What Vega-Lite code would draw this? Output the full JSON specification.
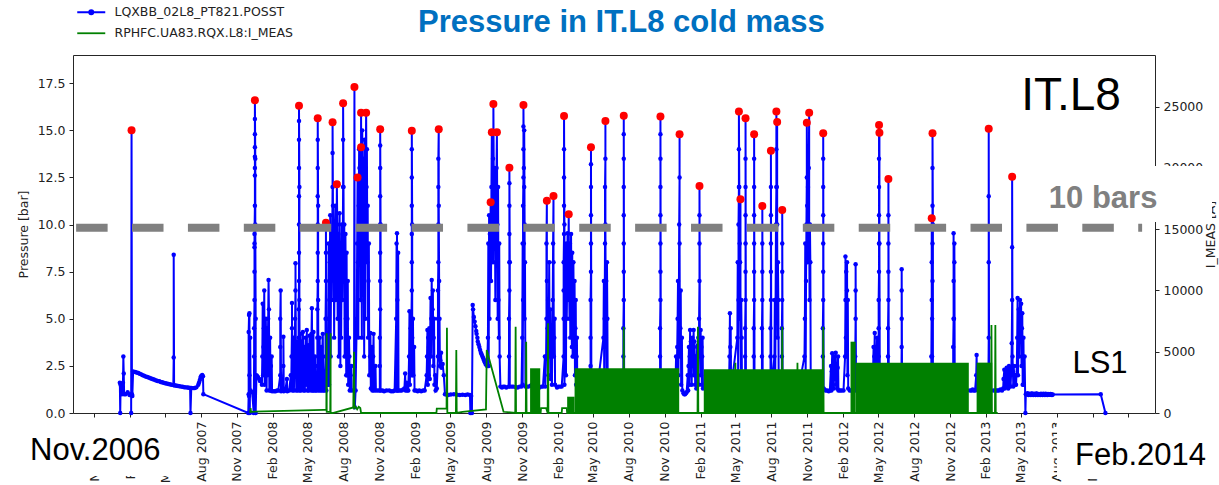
{
"$schema": "https://vega.github.io/schema/vega-lite/v6.json",
"width": 1082, "height": 358,
"autosize": {"type": "none"},
"padding": {"left": 73, "top": 55, "right": 64, "bottom": 72},
"background": "white",
"config": {
 "view": {"stroke": "#262626", "strokeWidth": 1},
 "axis": {"labelFont": "DejaVu Sans", "titleFont": "DejaVu Sans", "labelFontSize": 12.5, "titleFontSize": 12.5, "labelColor": "#222222", "titleColor": "#222222", "titleFontWeight": "normal", "tickColor": "#222222", "domain": false, "grid": false, "tickSize": 4}
},
"datasets": {
"blue": [
{"t":"2007-01-05","p":1.6},{"t":"2007-01-06","p":0},{"t":"2007-01-07","p":1.5},{"t":"2007-01-10","p":1.0},{"t":"2007-01-13","p":1.6},{"t":"2007-01-14","p":3.0},{"t":"2007-01-15","p":2.1},{"t":"2007-01-16","p":1.0},{"t":"2007-01-20","p":1.0},{"t":"2007-01-25","p":1.1},{"t":"2007-01-30","p":0.95},{"t":"2007-02-03","p":1.0},{"t":"2007-02-03","p":0},{"t":"2007-02-04","p":15.0},{"t":"2007-02-05","p":1.0},{"t":"2007-02-06","p":0.9},{"t":"2007-02-08","p":2.2},
{"t":"2007-02-13","p":2.18},{"t":"2007-02-17","p":2.15},{"t":"2007-02-21","p":2.12},{"t":"2007-02-25","p":2.08},{"t":"2007-03-01","p":2.05},{"t":"2007-03-04","p":2.01},{"t":"2007-03-08","p":1.98},{"t":"2007-03-12","p":1.94},{"t":"2007-03-16","p":1.91},{"t":"2007-03-20","p":1.88},{"t":"2007-03-24","p":1.85},{"t":"2007-03-28","p":1.82},{"t":"2007-03-31","p":1.79},{"t":"2007-04-04","p":1.76},{"t":"2007-04-08","p":1.73},{"t":"2007-04-12","p":1.7},{"t":"2007-04-16","p":1.68},{"t":"2007-04-20","p":1.65},{"t":"2007-04-23","p":1.63},{"t":"2007-04-27","p":1.6},{"t":"2007-05-01","p":1.58},{"t":"2007-05-05","p":1.56},{"t":"2007-05-09","p":1.54},{"t":"2007-05-13","p":1.52},{"t":"2007-05-17","p":1.5},{"t":"2007-05-22","p":1.48},{"t":"2007-05-23","p":2.95},{"t":"2007-05-23","p":8.4},{"t":"2007-05-24","p":1.47},{"t":"2007-05-27","p":1.46},{"t":"2007-05-31","p":1.45},{"t":"2007-06-03","p":1.43},{"t":"2007-06-07","p":1.42},{"t":"2007-06-11","p":1.4},{"t":"2007-06-15","p":1.39},{"t":"2007-06-19","p":1.37},{"t":"2007-06-23","p":1.36},{"t":"2007-06-27","p":1.35},{"t":"2007-07-01","p":1.34},{"t":"2007-07-04","p":1.33},{"t":"2007-07-05","p":0},{"t":"2007-07-07","p":1.33},{"t":"2007-07-12","p":1.32},{"t":"2007-07-16","p":1.33},{"t":"2007-07-20","p":1.36},{"t":"2007-07-25","p":1.5},{"t":"2007-07-27","p":1.62},{"t":"2007-07-29","p":1.75},{"t":"2007-07-31","p":1.88},{"t":"2007-08-01","p":1.95},{"t":"2007-08-04","p":2.02},{"t":"2007-08-06","p":1.95},{"t":"2007-08-07","p":1.0},{"t":"2007-11-30","p":0},
{"t":"2007-12-01","p":1.0},{"t":"2007-12-01","p":4.3},{"t":"2007-12-02","p":5.2},{"t":"2007-12-02","p":0.9},{"t":"2007-12-03","p":5.3},{"t":"2007-12-03","p":2.0},{"t":"2007-12-04","p":0},{"t":"2007-12-05","p":4.0},{"t":"2007-12-06","p":1.2},{"t":"2007-12-10","p":1.1},{"t":"2007-12-14","p":0},{"t":"2007-12-15","p":3.0},{"t":"2007-12-15","p":4.5},{"t":"2007-12-16","p":6.0},{"t":"2007-12-16","p":7.5},{"t":"2007-12-16","p":8.8},{"t":"2007-12-16","p":9.0},{"t":"2007-12-16","p":9.5},{"t":"2007-12-17","p":11.0},{"t":"2007-12-17","p":12.6},{"t":"2007-12-17","p":13.0},{"t":"2007-12-17","p":13.6},{"t":"2007-12-17","p":14.1},{"t":"2007-12-17","p":14.8},{"t":"2007-12-17","p":15.6},{"t":"2007-12-17","p":16.6},{"t":"2007-12-18","p":13.5},{"t":"2007-12-18","p":10.0},{"t":"2007-12-19","p":5.0},{"t":"2007-12-19","p":0},{"t":"2007-12-21","p":2.0},{"t":"2007-12-23","p":1.95},{"t":"2007-12-25","p":1.9},{"t":"2007-12-28","p":1.8},{"t":"2007-12-30","p":1.7},
{"t":"2008-01-04","p":1.5},{"t":"2008-01-05","p":3.0},{"t":"2008-01-06","p":5.8},{"t":"2008-01-07","p":2.0},{"t":"2008-01-08","p":3.5},{"t":"2008-01-09","p":4.5},{"t":"2008-01-10","p":6.5},{"t":"2008-01-11","p":1.5},{"t":"2008-01-12","p":4.0},{"t":"2008-01-13","p":2.0},{"t":"2008-01-14","p":5.0},{"t":"2008-01-15","p":3.5},{"t":"2008-01-16","p":1.2},{"t":"2008-01-17","p":4.5},{"t":"2008-01-18","p":2.0},{"t":"2008-01-19","p":3.5},{"t":"2008-01-20","p":5.0},{"t":"2008-01-21","p":7.06},{"t":"2008-01-22","p":5.5},{"t":"2008-01-23","p":1.2},{"t":"2008-01-24","p":3.0},{"t":"2008-01-25","p":4.0},{"t":"2008-01-26","p":1.2},{"t":"2008-01-27","p":2.5},{"t":"2008-01-29","p":3.0},{"t":"2008-01-30","p":1.15},{"t":"2008-02-04","p":1.15},{"t":"2008-02-08","p":1.15},{"t":"2008-02-12","p":1.2},{"t":"2008-02-15","p":1.2},
{"t":"2008-02-20","p":2.0},{"t":"2008-02-20","p":3.5},{"t":"2008-02-20","p":5.0},{"t":"2008-02-21","p":6.5},{"t":"2008-02-22","p":1.15},{"t":"2008-02-26","p":1.2},{"t":"2008-02-28","p":2.5},{"t":"2008-02-28","p":4.05},{"t":"2008-02-29","p":1.15},{"t":"2008-03-04","p":1.2},{"t":"2008-03-08","p":1.8},{"t":"2008-03-09","p":1.15},{"t":"2008-03-14","p":1.2},{"t":"2008-03-18","p":2.0},{"t":"2008-03-19","p":1.3},{"t":"2008-03-20","p":3.0},{"t":"2008-03-21","p":4.5},{"t":"2008-03-21","p":5.84},{"t":"2008-03-22","p":1.2},{"t":"2008-03-23","p":3.0},{"t":"2008-03-25","p":4.0},{"t":"2008-03-26","p":1.2},{"t":"2008-03-27","p":2.5},{"t":"2008-03-29","p":5.0},{"t":"2008-03-30","p":6.5},{"t":"2008-03-30","p":7.95},{"t":"2008-03-31","p":3.0},{"t":"2008-04-01","p":1.2},{"t":"2008-04-02","p":2.5},{"t":"2008-04-04","p":3.8},{"t":"2008-04-05","p":1.2},
{"t":"2008-04-07","p":2.5},{"t":"2008-04-07","p":4.0},{"t":"2008-04-07","p":5.5},{"t":"2008-04-08","p":7.0},{"t":"2008-04-08","p":8.5},{"t":"2008-04-08","p":10.0},{"t":"2008-04-08","p":11.5},{"t":"2008-04-08","p":13.0},{"t":"2008-04-08","p":14.5},{"t":"2008-04-08","p":15.5},{"t":"2008-04-08","p":16.3},{"t":"2008-04-09","p":12.0},{"t":"2008-04-09","p":6.0},{"t":"2008-04-10","p":1.2},
{"t":"2008-04-11","p":3.0},{"t":"2008-04-12","p":4.2},{"t":"2008-04-13","p":1.2},{"t":"2008-04-14","p":2.5},{"t":"2008-04-15","p":3.8},{"t":"2008-04-16","p":1.3},{"t":"2008-04-17","p":3.0},{"t":"2008-04-18","p":4.3},{"t":"2008-04-19","p":2.5},{"t":"2008-04-20","p":1.2},{"t":"2008-04-21","p":2.8},{"t":"2008-04-22","p":3.5},{"t":"2008-04-23","p":1.2},{"t":"2008-04-24","p":3.0},{"t":"2008-04-25","p":4.0},{"t":"2008-04-26","p":1.5},{"t":"2008-04-27","p":3.2},{"t":"2008-04-28","p":4.4},{"t":"2008-04-29","p":2.0},{"t":"2008-04-30","p":1.2},{"t":"2008-05-01","p":2.6},{"t":"2008-05-02","p":3.6},{"t":"2008-05-03","p":1.2},{"t":"2008-05-04","p":3.0},{"t":"2008-05-05","p":4.1},{"t":"2008-05-06","p":1.3},{"t":"2008-05-07","p":2.4},{"t":"2008-05-08","p":3.2},{"t":"2008-05-09","p":1.2},{"t":"2008-05-10","p":4.2},{"t":"2008-05-11","p":5.56},{"t":"2008-05-12","p":3.0},{"t":"2008-05-13","p":1.2},{"t":"2008-05-14","p":3.0},{"t":"2008-05-15","p":4.3},{"t":"2008-05-16","p":1.2},{"t":"2008-05-17","p":2.5},{"t":"2008-05-19","p":3.0},{"t":"2008-05-20","p":1.2},{"t":"2008-05-22","p":2.0},{"t":"2008-05-23","p":1.2},
{"t":"2008-05-25","p":2.5},{"t":"2008-05-25","p":4.0},{"t":"2008-05-25","p":5.5},{"t":"2008-05-26","p":7.0},{"t":"2008-05-26","p":8.5},{"t":"2008-05-26","p":10.0},{"t":"2008-05-26","p":11.5},{"t":"2008-05-26","p":13.0},{"t":"2008-05-26","p":14.5},{"t":"2008-05-26","p":15.64},{"t":"2008-05-27","p":11.0},{"t":"2008-05-27","p":6.0},{"t":"2008-05-28","p":1.2},{"t":"2008-05-29","p":2.5},{"t":"2008-05-31","p":4.0},{"t":"2008-06-01","p":1.2},{"t":"2008-06-02","p":2.5},{"t":"2008-06-04","p":3.5},{"t":"2008-06-05","p":1.2},{"t":"2008-06-06","p":3.0},{"t":"2008-06-08","p":4.2},{"t":"2008-06-09","p":1.2},{"t":"2008-06-11","p":2.2},{"t":"2008-06-12","p":1.2},
{"t":"2008-06-15","p":3.0},{"t":"2008-06-15","p":5.0},{"t":"2008-06-16","p":7.0},{"t":"2008-06-16","p":8.5},{"t":"2008-06-16","p":10.1},{"t":"2008-06-17","p":1.2},
{"t":"2008-06-20","p":3.0},{"t":"2008-06-21","p":1.5},{"t":"2008-06-22","p":5.0},{"t":"2008-06-23","p":9.0},{"t":"2008-06-24","p":1.5},{"t":"2008-06-25","p":6.0},{"t":"2008-06-26","p":8.0},{"t":"2008-06-27","p":10.5},{"t":"2008-06-28","p":3.0},{"t":"2008-06-29","p":7.0},{"t":"2008-06-30","p":9.5},{"t":"2008-07-01","p":6.0},{"t":"2008-07-02","p":9.0},{"t":"2008-07-03","p":12.0},{"t":"2008-07-03","p":13.8},{"t":"2008-07-03","p":15.43},{"t":"2008-07-04","p":11.0},{"t":"2008-07-05","p":8.0},{"t":"2008-07-06","p":10.0},{"t":"2008-07-07","p":4.0},{"t":"2008-07-08","p":7.5},{"t":"2008-07-09","p":9.8},{"t":"2008-07-10","p":11.0},{"t":"2008-07-11","p":6.0},{"t":"2008-07-12","p":9.0},{"t":"2008-07-13","p":8.0},{"t":"2008-07-14","p":12.14},{"t":"2008-07-15","p":10.0},{"t":"2008-07-16","p":5.0},{"t":"2008-07-17","p":8.0},{"t":"2008-07-18","p":9.5},{"t":"2008-07-19","p":3.0},{"t":"2008-07-20","p":8.5},{"t":"2008-07-21","p":10.6},{"t":"2008-07-22","p":7.0},{"t":"2008-07-23","p":2.5},{"t":"2008-07-24","p":9.0},{"t":"2008-07-25","p":4.0},{"t":"2008-07-26","p":8.0},{"t":"2008-07-27","p":10.0},{"t":"2008-07-28","p":6.0},{"t":"2008-07-29","p":9.0},{"t":"2008-07-30","p":12.0},{"t":"2008-07-30","p":14.5},{"t":"2008-07-30","p":16.44},{"t":"2008-07-31","p":12.0},{"t":"2008-08-01","p":8.0},{"t":"2008-08-02","p":10.0},{"t":"2008-08-03","p":3.0},{"t":"2008-08-04","p":7.0},{"t":"2008-08-05","p":9.5},{"t":"2008-08-06","p":5.0},{"t":"2008-08-07","p":2.0},{"t":"2008-08-08","p":8.5},{"t":"2008-08-09","p":2.0},{"t":"2008-08-10","p":5.0},{"t":"2008-08-11","p":7.0},{"t":"2008-08-12","p":1.5},{"t":"2008-08-14","p":4.0},{"t":"2008-08-15","p":3.0},{"t":"2008-08-16","p":1.2},{"t":"2008-08-18","p":2.0},{"t":"2008-08-20","p":2.5},{"t":"2008-08-21","p":1.2},
{"t":"2008-08-27","p":1.2},{"t":"2008-08-28","p":17.3},{"t":"2008-08-29","p":0.3},{"t":"2008-08-31","p":1.2},{"t":"2008-09-03","p":5.0},{"t":"2008-09-04","p":9.0},{"t":"2008-09-05","p":12.5},{"t":"2008-09-06","p":8.0},
{"t":"2008-09-07","p":4.0},{"t":"2008-09-08","p":11.0},{"t":"2008-09-09","p":14.0},{"t":"2008-09-10","p":13.0},{"t":"2008-09-11","p":9.0},{"t":"2008-09-12","p":12.0},{"t":"2008-09-13","p":6.0},{"t":"2008-09-14","p":14.1},{"t":"2008-09-14","p":15.94},{"t":"2008-09-15","p":10.0},{"t":"2008-09-16","p":4.0},{"t":"2008-09-17","p":15.0},{"t":"2008-09-18","p":11.5},{"t":"2008-09-19","p":7.0},{"t":"2008-09-20","p":13.5},{"t":"2008-09-21","p":8.0},{"t":"2008-09-22","p":3.0},{"t":"2008-09-23","p":14.5},{"t":"2008-09-24","p":10.0},{"t":"2008-09-25","p":5.0},{"t":"2008-09-26","p":13.0},{"t":"2008-09-27","p":15.94},{"t":"2008-09-28","p":12.0},{"t":"2008-09-29","p":14.0},{"t":"2008-09-30","p":8.0},{"t":"2008-10-01","p":11.0},{"t":"2008-10-02","p":4.0},{"t":"2008-10-03","p":7.0},{"t":"2008-10-04","p":9.0},{"t":"2008-10-05","p":2.0},
{"t":"2008-10-07","p":3.0},{"t":"2008-10-08","p":4.25},{"t":"2008-10-09","p":1.3},{"t":"2008-10-11","p":2.5},{"t":"2008-10-12","p":3.5},{"t":"2008-10-13","p":1.2},{"t":"2008-10-15","p":3.0},{"t":"2008-10-16","p":4.2},{"t":"2008-10-17","p":1.2},{"t":"2008-10-21","p":2.5},{"t":"2008-10-22","p":1.2},{"t":"2008-10-27","p":1.2},
{"t":"2008-11-01","p":1.2},{"t":"2008-11-01","p":2.5},{"t":"2008-11-01","p":4.0},{"t":"2008-11-02","p":5.5},{"t":"2008-11-02","p":7.0},{"t":"2008-11-02","p":8.5},{"t":"2008-11-02","p":10.0},{"t":"2008-11-02","p":11.5},{"t":"2008-11-02","p":13.0},{"t":"2008-11-02","p":14.2},{"t":"2008-11-02","p":15.06},{"t":"2008-11-03","p":10.0},{"t":"2008-11-03","p":1.2},{"t":"2008-11-08","p":1.2},{"t":"2008-11-12","p":1.15},{"t":"2008-11-18","p":1.2},{"t":"2008-11-25","p":1.2},{"t":"2008-11-30","p":1.15},{"t":"2008-12-05","p":1.15},{"t":"2008-12-09","p":1.2},
{"t":"2008-12-13","p":5.0},{"t":"2008-12-14","p":9.0},{"t":"2008-12-14","p":1.2},{"t":"2008-12-15","p":7.0},{"t":"2008-12-15","p":9.54},{"t":"2008-12-16","p":6.0},{"t":"2008-12-16","p":1.2},{"t":"2008-12-18","p":8.5},{"t":"2008-12-19","p":1.2},{"t":"2008-12-23","p":1.2},{"t":"2008-12-27","p":1.2},{"t":"2008-12-31","p":1.25},{"t":"2009-01-03","p":1.3},{"t":"2009-01-05","p":2.1},{"t":"2009-01-06","p":1.2},{"t":"2009-01-09","p":1.6},{"t":"2009-01-10","p":1.2},{"t":"2009-01-13","p":1.2},
{"t":"2009-01-15","p":3.0},{"t":"2009-01-16","p":5.4},{"t":"2009-01-17","p":1.5},{"t":"2009-01-18","p":3.0},{"t":"2009-01-19","p":4.5},{"t":"2009-01-20","p":2.0},{"t":"2009-01-21","p":5.0},{"t":"2009-01-22","p":6.5},{"t":"2009-01-22","p":8.0},{"t":"2009-01-22","p":9.5},{"t":"2009-01-22","p":11.0},{"t":"2009-01-22","p":12.5},{"t":"2009-01-22","p":14.0},{"t":"2009-01-22","p":14.98},{"t":"2009-01-23","p":10.0},{"t":"2009-01-23","p":4.0},{"t":"2009-01-24","p":2.0},{"t":"2009-01-25","p":5.0},{"t":"2009-01-26","p":2.0},{"t":"2009-01-28","p":3.5},{"t":"2009-01-29","p":1.2},{"t":"2009-02-02","p":1.2},{"t":"2009-02-06","p":1.15},{"t":"2009-02-10","p":1.2},{"t":"2009-02-15","p":1.15},{"t":"2009-02-20","p":1.2},{"t":"2009-02-24","p":1.2},
{"t":"2009-03-01","p":2.0},{"t":"2009-03-02","p":3.0},{"t":"2009-03-03","p":4.4},{"t":"2009-03-04","p":1.5},{"t":"2009-03-05","p":4.0},{"t":"2009-03-06","p":2.0},{"t":"2009-03-07","p":3.5},{"t":"2009-03-08","p":4.5},{"t":"2009-03-09","p":1.8},{"t":"2009-03-10","p":4.0},{"t":"2009-03-11","p":6.1},{"t":"2009-03-12","p":3.0},{"t":"2009-03-13","p":5.0},{"t":"2009-03-14","p":7.06},{"t":"2009-03-15","p":4.0},{"t":"2009-03-16","p":5.5},{"t":"2009-03-17","p":6.5},{"t":"2009-03-18","p":2.5},{"t":"2009-03-19","p":4.0},{"t":"2009-03-20","p":5.0},{"t":"2009-03-21","p":1.5},{"t":"2009-03-23","p":2.0},{"t":"2009-03-24","p":1.2},{"t":"2009-03-27","p":1.3},
{"t":"2009-03-30","p":3.0},{"t":"2009-03-30","p":5.0},{"t":"2009-03-30","p":6.5},{"t":"2009-03-31","p":8.0},{"t":"2009-03-31","p":10.0},{"t":"2009-03-31","p":12.0},{"t":"2009-03-31","p":13.5},{"t":"2009-04-01","p":15.06},{"t":"2009-04-01","p":11.0},{"t":"2009-04-02","p":7.0},{"t":"2009-04-02","p":3.0},{"t":"2009-04-03","p":5.0},{"t":"2009-04-04","p":2.5},{"t":"2009-04-05","p":2.8},{"t":"2009-04-07","p":3.2},{"t":"2009-04-08","p":2.4},{"t":"2009-04-11","p":2.6},{"t":"2009-04-14","p":2.0},{"t":"2009-04-17","p":1.0},{"t":"2009-04-21","p":0.98},{"t":"2009-04-25","p":0.96},{"t":"2009-05-02","p":0.98},{"t":"2009-05-10","p":1.0},{"t":"2009-05-18","p":0.97},{"t":"2009-05-25","p":0.95},{"t":"2009-06-01","p":0.97},{"t":"2009-06-08","p":0.96},{"t":"2009-06-14","p":0.98},{"t":"2009-06-20","p":0.95},{"t":"2009-06-21","p":0},{"t":"2009-06-23","p":0.9},{"t":"2009-06-25","p":0},
{"t":"2009-06-27","p":5.73},{"t":"2009-06-28","p":5.5},{"t":"2009-06-30","p":5.1},{"t":"2009-07-02","p":4.85},{"t":"2009-07-04","p":4.6},{"t":"2009-07-06","p":4.35},{"t":"2009-07-07","p":4.2},{"t":"2009-07-09","p":4.0},{"t":"2009-07-10","p":3.8},{"t":"2009-07-12","p":3.65},{"t":"2009-07-14","p":3.5},{"t":"2009-07-16","p":3.35},{"t":"2009-07-18","p":3.2},{"t":"2009-07-20","p":3.1},{"t":"2009-07-22","p":3.0},{"t":"2009-07-24","p":2.9},{"t":"2009-07-26","p":2.8},{"t":"2009-07-28","p":2.7},{"t":"2009-07-30","p":2.6},{"t":"2009-08-01","p":2.55},{"t":"2009-08-03","p":2.5},
{"t":"2009-08-05","p":4.0},{"t":"2009-08-06","p":9.0},{"t":"2009-08-07","p":2.5},{"t":"2009-08-08","p":10.5},{"t":"2009-08-09","p":5.0},{"t":"2009-08-10","p":9.5},{"t":"2009-08-11","p":8.0},{"t":"2009-08-12","p":11.18},{"t":"2009-08-13","p":7.0},{"t":"2009-08-14","p":12.0},{"t":"2009-08-15","p":14.9},{"t":"2009-08-16","p":10.0},{"t":"2009-08-17","p":11.0},{"t":"2009-08-18","p":13.5},{"t":"2009-08-18","p":8.0},{"t":"2009-08-19","p":12.0},{"t":"2009-08-19","p":14.9},{"t":"2009-08-19","p":16.4},{"t":"2009-08-20","p":12.5},{"t":"2009-08-21","p":9.0},{"t":"2009-08-22","p":13.0},{"t":"2009-08-23","p":10.0},{"t":"2009-08-24","p":6.0},{"t":"2009-08-25","p":12.0},{"t":"2009-08-26","p":8.0},{"t":"2009-08-27","p":13.0},{"t":"2009-08-28","p":14.9},{"t":"2009-08-29","p":10.0},{"t":"2009-08-30","p":5.0},{"t":"2009-08-31","p":12.0},{"t":"2009-09-01","p":6.0},{"t":"2009-09-02","p":4.0},{"t":"2009-09-03","p":9.0},{"t":"2009-09-04","p":3.0},{"t":"2009-09-06","p":1.4},{"t":"2009-09-10","p":1.35},{"t":"2009-09-13","p":1.4},{"t":"2009-09-17","p":1.4},{"t":"2009-09-21","p":1.35},{"t":"2009-09-27","p":1.4},
{"t":"2009-09-28","p":3.0},{"t":"2009-09-28","p":5.0},{"t":"2009-09-29","p":6.5},{"t":"2009-09-29","p":8.0},{"t":"2009-09-29","p":9.5},{"t":"2009-09-29","p":11.0},{"t":"2009-09-29","p":12.2},{"t":"2009-09-29","p":13.02},{"t":"2009-09-30","p":8.0},{"t":"2009-09-30","p":1.4},{"t":"2009-10-05","p":1.4},{"t":"2009-10-09","p":1.4},{"t":"2009-10-15","p":1.38},{"t":"2009-10-20","p":1.35},{"t":"2009-10-25","p":1.4},{"t":"2009-10-30","p":1.4},
{"t":"2009-11-01","p":4.0},{"t":"2009-11-02","p":9.0},{"t":"2009-11-02","p":1.5},{"t":"2009-11-03","p":6.0},{"t":"2009-11-03","p":11.0},{"t":"2009-11-04","p":12.5},{"t":"2009-11-04","p":14.0},{"t":"2009-11-04","p":15.2},{"t":"2009-11-04","p":16.35},{"t":"2009-11-05","p":13.0},{"t":"2009-11-05","p":9.0},{"t":"2009-11-06","p":12.0},{"t":"2009-11-06","p":15.0},{"t":"2009-11-07","p":10.0},{"t":"2009-11-07","p":5.0},{"t":"2009-11-08","p":8.0},{"t":"2009-11-09","p":1.4},{"t":"2009-11-13","p":1.4},{"t":"2009-11-17","p":1.4},{"t":"2009-11-22","p":1.45},{"t":"2009-11-26","p":1.5},{"t":"2009-12-01","p":1.45},{"t":"2009-12-05","p":1.4},{"t":"2009-12-10","p":1.4},{"t":"2009-12-15","p":1.35},{"t":"2009-12-20","p":1.4},{"t":"2009-12-24","p":1.4},
{"t":"2009-12-29","p":3.0},{"t":"2009-12-30","p":1.4},{"t":"2010-01-01","p":3.0},{"t":"2010-01-02","p":5.0},{"t":"2010-01-02","p":9.0},{"t":"2010-01-03","p":11.27},{"t":"2010-01-03","p":7.0},{"t":"2010-01-04","p":3.0},{"t":"2010-01-05","p":4.5},{"t":"2010-01-06","p":6.0},{"t":"2010-01-07","p":2.0},{"t":"2010-01-08","p":5.0},{"t":"2010-01-09","p":8.0},{"t":"2010-01-10","p":4.0},{"t":"2010-01-11","p":3.0},{"t":"2010-01-12","p":5.5},{"t":"2010-01-13","p":1.8},{"t":"2010-01-14","p":3.5},{"t":"2010-01-15","p":4.5},{"t":"2010-01-16","p":1.5},{"t":"2010-01-17","p":4.0},{"t":"2010-01-18","p":6.0},{"t":"2010-01-19","p":9.0},{"t":"2010-01-20","p":11.52},{"t":"2010-01-20","p":8.0},{"t":"2010-01-21","p":3.0},{"t":"2010-01-22","p":4.0},{"t":"2010-01-23","p":5.0},{"t":"2010-01-24","p":1.5},{"t":"2010-01-29","p":1.35},{"t":"2010-02-02","p":1.4},{"t":"2010-02-06","p":1.4},{"t":"2010-02-10","p":1.4},
{"t":"2010-02-15","p":3.0},{"t":"2010-02-15","p":5.0},{"t":"2010-02-15","p":6.5},{"t":"2010-02-15","p":8.0},{"t":"2010-02-16","p":9.5},{"t":"2010-02-16","p":11.0},{"t":"2010-02-16","p":12.5},{"t":"2010-02-16","p":14.0},{"t":"2010-02-16","p":15.76},{"t":"2010-02-17","p":10.0},{"t":"2010-02-17","p":1.5},
{"t":"2010-02-18","p":2.5},{"t":"2010-02-19","p":4.0},{"t":"2010-02-20","p":8.0},{"t":"2010-02-21","p":2.0},{"t":"2010-02-22","p":9.0},{"t":"2010-02-23","p":5.0},{"t":"2010-02-24","p":7.0},{"t":"2010-02-25","p":9.54},{"t":"2010-02-26","p":6.0},{"t":"2010-02-27","p":8.0},{"t":"2010-02-28","p":10.55},{"t":"2010-03-01","p":7.0},{"t":"2010-03-02","p":5.0},{"t":"2010-03-03","p":9.0},{"t":"2010-03-04","p":4.0},{"t":"2010-03-05","p":7.0},{"t":"2010-03-06","p":9.5},{"t":"2010-03-07","p":6.0},{"t":"2010-03-08","p":3.5},{"t":"2010-03-09","p":8.5},{"t":"2010-03-10","p":3.0},{"t":"2010-03-11","p":6.0},{"t":"2010-03-12","p":8.0},{"t":"2010-03-13","p":5.0},{"t":"2010-03-14","p":3.0},{"t":"2010-03-15","p":7.0},{"t":"2010-03-16","p":2.0},{"t":"2010-03-17","p":4.5},{"t":"2010-03-18","p":6.0},{"t":"2010-03-19","p":1.5},{"t":"2010-03-20","p":3.0},{"t":"2010-03-21","p":4.0},{"t":"2010-03-22","p":1.3},{"t":"2010-04-05","p":1.3},{"t":"2010-04-18","p":1.3},
{"t":"2010-04-25","p":2.5},{"t":"2010-04-25","p":4.0},{"t":"2010-04-25","p":6.0},{"t":"2010-04-26","p":7.5},{"t":"2010-04-26","p":9.0},{"t":"2010-04-26","p":10.5},{"t":"2010-04-26","p":12.0},{"t":"2010-04-26","p":13.2},{"t":"2010-04-26","p":14.1},{"t":"2010-04-27","p":1.3},{"t":"2010-05-12","p":1.3},
{"t":"2010-05-28","p":4.0},{"t":"2010-05-29","p":7.0},{"t":"2010-05-30","p":1.5},{"t":"2010-05-31","p":5.0},{"t":"2010-06-01","p":9.0},{"t":"2010-06-01","p":12.0},{"t":"2010-06-02","p":13.5},{"t":"2010-06-02","p":15.5},{"t":"2010-06-02","p":10.0},{"t":"2010-06-03","p":4.0},{"t":"2010-06-04","p":7.0},{"t":"2010-06-05","p":2.0},{"t":"2010-06-06","p":8.0},{"t":"2010-06-07","p":5.0},{"t":"2010-06-08","p":1.3},{"t":"2010-06-25","p":1.3},
{"t":"2010-07-18","p":1.3},{"t":"2010-07-18","p":3.0},{"t":"2010-07-18","p":4.5},{"t":"2010-07-19","p":6.0},{"t":"2010-07-19","p":7.5},{"t":"2010-07-19","p":9.0},{"t":"2010-07-19","p":10.5},{"t":"2010-07-19","p":12.0},{"t":"2010-07-19","p":13.5},{"t":"2010-07-19","p":14.8},{"t":"2010-07-19","p":15.78},{"t":"2010-07-20","p":1.3},{"t":"2010-08-15","p":1.3},{"t":"2010-09-10","p":1.3},{"t":"2010-10-01","p":1.3},
{"t":"2010-10-20","p":1.3},{"t":"2010-10-20","p":3.0},{"t":"2010-10-20","p":4.5},{"t":"2010-10-21","p":6.0},{"t":"2010-10-21","p":7.5},{"t":"2010-10-21","p":9.0},{"t":"2010-10-21","p":10.5},{"t":"2010-10-21","p":12.0},{"t":"2010-10-21","p":13.5},{"t":"2010-10-21","p":14.8},{"t":"2010-10-21","p":15.73},{"t":"2010-10-22","p":1.3},{"t":"2010-11-12","p":1.3},
{"t":"2010-11-29","p":2.0},{"t":"2010-11-30","p":3.0},{"t":"2010-12-01","p":1.5},{"t":"2010-12-03","p":3.5},{"t":"2010-12-04","p":5.0},{"t":"2010-12-05","p":7.0},{"t":"2010-12-06","p":2.0},{"t":"2010-12-07","p":5.0},{"t":"2010-12-08","p":10.0},{"t":"2010-12-09","p":12.5},{"t":"2010-12-09","p":14.8},{"t":"2010-12-09","p":9.0},{"t":"2010-12-10","p":3.0},{"t":"2010-12-11","p":4.5},{"t":"2010-12-12","p":6.5},{"t":"2010-12-13","p":1.5},{"t":"2010-12-15","p":4.0},{"t":"2010-12-16","p":1.2},{"t":"2010-12-19","p":1.05},{"t":"2010-12-21","p":1.0},{"t":"2010-12-23","p":1.0},{"t":"2010-12-25","p":1.05},{"t":"2010-12-27","p":1.1},
{"t":"2010-12-30","p":2.0},{"t":"2010-12-31","p":1.2},{"t":"2011-01-01","p":2.5},{"t":"2011-01-02","p":3.5},{"t":"2011-01-03","p":1.5},{"t":"2011-01-04","p":3.0},{"t":"2011-01-05","p":4.4},{"t":"2011-01-06","p":2.0},{"t":"2011-01-07","p":3.8},{"t":"2011-01-08","p":3.0},{"t":"2011-01-09","p":1.5},{"t":"2011-01-10","p":3.2},{"t":"2011-01-11","p":4.0},{"t":"2011-01-12","p":2.5},{"t":"2011-01-13","p":3.5},{"t":"2011-01-14","p":4.4},{"t":"2011-01-15","p":2.0},{"t":"2011-01-16","p":3.8},{"t":"2011-01-17","p":3.0},{"t":"2011-01-18","p":1.5},{"t":"2011-01-19","p":3.0},{"t":"2011-01-20","p":2.5},{"t":"2011-01-21","p":1.3},{"t":"2011-01-22","p":2.8},{"t":"2011-01-23","p":3.5},{"t":"2011-01-24","p":2.0},{"t":"2011-01-25","p":3.6},{"t":"2011-01-26","p":4.0},{"t":"2011-01-27","p":1.5},{"t":"2011-01-28","p":5.0},{"t":"2011-01-29","p":7.0},{"t":"2011-01-29","p":9.0},{"t":"2011-01-29","p":10.5},{"t":"2011-01-29","p":12.05},{"t":"2011-01-30","p":4.0},{"t":"2011-01-31","p":3.0},{"t":"2011-02-01","p":4.4},{"t":"2011-02-02","p":2.0},{"t":"2011-02-03","p":3.5},{"t":"2011-02-04","p":1.5},{"t":"2011-02-05","p":3.0},{"t":"2011-02-06","p":4.0},{"t":"2011-02-07","p":1.3},{"t":"2011-02-25","p":1.3},{"t":"2011-03-20","p":1.3},
{"t":"2011-04-15","p":2.0},{"t":"2011-04-16","p":3.0},{"t":"2011-04-17","p":5.29},{"t":"2011-04-17","p":1.3},{"t":"2011-04-18","p":3.5},{"t":"2011-04-19","p":4.5},{"t":"2011-04-20","p":1.3},
{"t":"2011-05-06","p":4.0},{"t":"2011-05-07","p":8.0},{"t":"2011-05-08","p":2.0},{"t":"2011-05-09","p":6.0},{"t":"2011-05-09","p":10.0},{"t":"2011-05-10","p":12.0},{"t":"2011-05-10","p":14.0},{"t":"2011-05-10","p":16.0},{"t":"2011-05-11","p":12.0},{"t":"2011-05-11","p":5.0},{"t":"2011-05-12","p":9.0},{"t":"2011-05-13","p":8.0},{"t":"2011-05-14","p":11.34},{"t":"2011-05-14","p":6.0},{"t":"2011-05-15","p":2.0},{"t":"2011-05-16","p":6.0},{"t":"2011-05-17","p":4.0},{"t":"2011-05-18","p":1.3},
{"t":"2011-05-26","p":1.3},{"t":"2011-05-26","p":3.0},{"t":"2011-05-26","p":4.5},{"t":"2011-05-27","p":6.0},{"t":"2011-05-27","p":7.5},{"t":"2011-05-27","p":9.0},{"t":"2011-05-27","p":10.5},{"t":"2011-05-27","p":12.0},{"t":"2011-05-27","p":13.5},{"t":"2011-05-27","p":15.64},{"t":"2011-05-28","p":1.3},
{"t":"2011-06-17","p":1.3},{"t":"2011-06-17","p":3.0},{"t":"2011-06-17","p":4.5},{"t":"2011-06-18","p":6.0},{"t":"2011-06-18","p":7.5},{"t":"2011-06-18","p":9.0},{"t":"2011-06-18","p":10.5},{"t":"2011-06-18","p":12.0},{"t":"2011-06-18","p":13.5},{"t":"2011-06-18","p":14.8},{"t":"2011-06-19","p":1.3},
{"t":"2011-07-08","p":1.3},{"t":"2011-07-08","p":3.0},{"t":"2011-07-08","p":4.5},{"t":"2011-07-09","p":6.0},{"t":"2011-07-09","p":7.5},{"t":"2011-07-09","p":9.0},{"t":"2011-07-09","p":10.99},{"t":"2011-07-10","p":1.3},
{"t":"2011-07-30","p":1.3},{"t":"2011-07-30","p":3.0},{"t":"2011-07-30","p":4.5},{"t":"2011-07-31","p":6.0},{"t":"2011-07-31","p":7.5},{"t":"2011-07-31","p":9.0},{"t":"2011-07-31","p":10.5},{"t":"2011-07-31","p":12.0},{"t":"2011-07-31","p":13.92},{"t":"2011-08-01","p":1.3},
{"t":"2011-08-09","p":3.0},{"t":"2011-08-10","p":6.0},{"t":"2011-08-11","p":1.5},{"t":"2011-08-12","p":6.0},{"t":"2011-08-13","p":10.0},{"t":"2011-08-14","p":12.0},{"t":"2011-08-14","p":14.0},{"t":"2011-08-14","p":16.0},{"t":"2011-08-15","p":12.0},{"t":"2011-08-16","p":15.45},{"t":"2011-08-16","p":10.0},{"t":"2011-08-17","p":4.0},{"t":"2011-08-18","p":8.0},{"t":"2011-08-19","p":6.0},{"t":"2011-08-20","p":1.3},
{"t":"2011-08-28","p":1.3},{"t":"2011-08-28","p":3.0},{"t":"2011-08-28","p":4.5},{"t":"2011-08-29","p":6.0},{"t":"2011-08-29","p":7.5},{"t":"2011-08-29","p":9.0},{"t":"2011-08-29","p":10.77},{"t":"2011-08-30","p":1.3},{"t":"2011-09-20","p":1.3},{"t":"2011-10-10","p":1.3},
{"t":"2011-10-25","p":3.0},{"t":"2011-10-26","p":5.0},{"t":"2011-10-27","p":9.0},{"t":"2011-10-28","p":2.0},{"t":"2011-10-29","p":7.0},{"t":"2011-10-30","p":10.0},{"t":"2011-10-31","p":12.5},{"t":"2011-10-31","p":15.41},{"t":"2011-11-01","p":11.0},{"t":"2011-11-02","p":8.0},{"t":"2011-11-03","p":12.0},{"t":"2011-11-04","p":9.0},{"t":"2011-11-05","p":13.0},{"t":"2011-11-06","p":15.94},{"t":"2011-11-06","p":10.0},{"t":"2011-11-07","p":6.0},{"t":"2011-11-08","p":10.0},{"t":"2011-11-09","p":8.0},{"t":"2011-11-10","p":1.5},{"t":"2011-11-22","p":1.3},
{"t":"2011-12-11","p":1.3},{"t":"2011-12-11","p":3.0},{"t":"2011-12-11","p":4.5},{"t":"2011-12-12","p":6.0},{"t":"2011-12-12","p":7.5},{"t":"2011-12-12","p":9.0},{"t":"2011-12-12","p":10.5},{"t":"2011-12-12","p":12.0},{"t":"2011-12-12","p":13.5},{"t":"2011-12-12","p":14.85},{"t":"2011-12-13","p":1.3},{"t":"2011-12-15","p":1.25},{"t":"2011-12-18","p":1.2},{"t":"2011-12-22","p":1.2},{"t":"2011-12-26","p":1.15},{"t":"2011-12-29","p":1.2},
{"t":"2012-01-01","p":2.5},{"t":"2012-01-02","p":1.2},{"t":"2012-01-03","p":2.2},{"t":"2012-01-04","p":3.17},{"t":"2012-01-05","p":1.5},{"t":"2012-01-06","p":2.0},{"t":"2012-01-07","p":2.8},{"t":"2012-01-08","p":1.3},{"t":"2012-01-09","p":2.4},{"t":"2012-01-10","p":3.0},{"t":"2012-01-11","p":1.8},{"t":"2012-01-12","p":2.5},{"t":"2012-01-13","p":3.2},{"t":"2012-01-14","p":1.5},{"t":"2012-01-15","p":2.2},{"t":"2012-01-16","p":2.5},{"t":"2012-01-17","p":1.3},{"t":"2012-01-18","p":2.4},{"t":"2012-01-19","p":3.0},{"t":"2012-01-20","p":1.2},{"t":"2012-01-24","p":1.2},{"t":"2012-01-28","p":1.2},{"t":"2012-02-02","p":1.2},
{"t":"2012-02-06","p":3.0},{"t":"2012-02-07","p":6.0},{"t":"2012-02-07","p":8.3},{"t":"2012-02-08","p":4.0},{"t":"2012-02-09","p":7.5},{"t":"2012-02-10","p":3.0},{"t":"2012-02-11","p":6.5},{"t":"2012-02-11","p":8.0},{"t":"2012-02-12","p":2.0},{"t":"2012-02-13","p":6.0},{"t":"2012-02-14","p":1.3},{"t":"2012-02-18","p":1.2},{"t":"2012-02-22","p":1.2},
{"t":"2012-03-03","p":1.2},{"t":"2012-03-03","p":3.0},{"t":"2012-03-04","p":5.0},{"t":"2012-03-04","p":6.5},{"t":"2012-03-04","p":7.9},{"t":"2012-03-05","p":1.3},{"t":"2012-03-22","p":1.3},{"t":"2012-04-10","p":1.3},
{"t":"2012-04-18","p":2.5},{"t":"2012-04-19","p":3.5},{"t":"2012-04-20","p":1.5},{"t":"2012-04-21","p":3.0},{"t":"2012-04-22","p":4.25},{"t":"2012-04-23","p":2.0},{"t":"2012-04-24","p":2.8},{"t":"2012-04-25","p":3.5},{"t":"2012-04-26","p":1.5},{"t":"2012-04-27","p":3.0},{"t":"2012-04-28","p":4.0},{"t":"2012-04-29","p":1.3},
{"t":"2012-05-02","p":3.0},{"t":"2012-05-02","p":4.5},{"t":"2012-05-02","p":6.0},{"t":"2012-05-03","p":7.5},{"t":"2012-05-03","p":9.0},{"t":"2012-05-03","p":10.5},{"t":"2012-05-03","p":12.0},{"t":"2012-05-03","p":13.5},{"t":"2012-05-03","p":15.29},{"t":"2012-05-04","p":14.88},{"t":"2012-05-04","p":9.0},{"t":"2012-05-05","p":1.3},
{"t":"2012-05-26","p":1.3},{"t":"2012-05-26","p":3.0},{"t":"2012-05-26","p":4.5},{"t":"2012-05-27","p":6.0},{"t":"2012-05-27","p":7.5},{"t":"2012-05-27","p":9.0},{"t":"2012-05-27","p":10.5},{"t":"2012-05-27","p":12.42},{"t":"2012-05-28","p":1.3},
{"t":"2012-06-29","p":1.3},{"t":"2012-06-30","p":3.5},{"t":"2012-06-30","p":5.0},{"t":"2012-06-30","p":6.5},{"t":"2012-06-30","p":7.63},{"t":"2012-07-01","p":1.3},{"t":"2012-08-15","p":1.3},
{"t":"2012-09-14","p":1.3},{"t":"2012-09-14","p":3.0},{"t":"2012-09-15","p":6.0},{"t":"2012-09-15","p":8.0},{"t":"2012-09-15","p":10.33},{"t":"2012-09-16","p":3.0},{"t":"2012-09-16","p":5.0},{"t":"2012-09-17","p":7.0},{"t":"2012-09-17","p":9.0},{"t":"2012-09-17","p":11.0},{"t":"2012-09-17","p":13.0},{"t":"2012-09-17","p":14.85},{"t":"2012-09-18","p":10.0},{"t":"2012-09-18","p":1.3},
{"t":"2012-11-09","p":1.3},{"t":"2012-11-09","p":3.5},{"t":"2012-11-10","p":5.0},{"t":"2012-11-10","p":7.0},{"t":"2012-11-10","p":9.54},{"t":"2012-11-11","p":2.0},{"t":"2012-11-11","p":5.0},{"t":"2012-11-12","p":8.0},{"t":"2012-11-12","p":9.0},{"t":"2012-11-13","p":1.3},{"t":"2012-12-10","p":1.3},{"t":"2012-12-22","p":1.2},{"t":"2012-12-26","p":1.2},{"t":"2012-12-29","p":1.25},{"t":"2013-01-01","p":1.2},{"t":"2013-01-04","p":1.2},
{"t":"2013-01-07","p":2.0},{"t":"2013-01-08","p":3.08},{"t":"2013-01-09","p":1.3},{"t":"2013-01-12","p":1.2},
{"t":"2013-02-07","p":1.2},{"t":"2013-02-08","p":4.0},{"t":"2013-02-08","p":8.0},{"t":"2013-02-08","p":11.5},{"t":"2013-02-08","p":15.09},{"t":"2013-02-09","p":1.2},{"t":"2013-02-20","p":1.2},{"t":"2013-02-26","p":1.2},{"t":"2013-03-02","p":1.2},{"t":"2013-03-06","p":1.2},{"t":"2013-03-10","p":1.25},{"t":"2013-03-14","p":1.2},{"t":"2013-03-17","p":1.3},
{"t":"2013-03-18","p":1.8},{"t":"2013-03-20","p":2.3},{"t":"2013-03-21","p":1.3},{"t":"2013-03-22","p":1.9},{"t":"2013-03-23","p":2.0},{"t":"2013-03-24","p":1.4},{"t":"2013-03-25","p":2.1},{"t":"2013-03-26","p":2.4},{"t":"2013-03-27","p":1.5},{"t":"2013-03-28","p":2.2},{"t":"2013-03-29","p":2.0},{"t":"2013-03-30","p":1.3},{"t":"2013-03-31","p":2.3},{"t":"2013-04-01","p":2.5},{"t":"2013-04-02","p":1.5},{"t":"2013-04-03","p":2.0},{"t":"2013-04-04","p":2.2},{"t":"2013-04-05","p":1.4},{"t":"2013-04-07","p":2.4},{"t":"2013-04-08","p":3.7},{"t":"2013-04-09","p":6.0},{"t":"2013-04-09","p":8.8},{"t":"2013-04-09","p":12.54},{"t":"2013-04-10","p":3.0},{"t":"2013-04-11","p":2.2},{"t":"2013-04-12","p":1.4},{"t":"2013-04-13","p":2.5},{"t":"2013-04-14","p":2.0},{"t":"2013-04-15","p":1.5},{"t":"2013-04-17","p":2.0},{"t":"2013-04-19","p":1.5},
{"t":"2013-04-21","p":2.5},{"t":"2013-04-22","p":4.0},{"t":"2013-04-23","p":6.1},{"t":"2013-04-24","p":2.0},{"t":"2013-04-25","p":4.0},{"t":"2013-04-26","p":5.5},{"t":"2013-04-27","p":3.0},{"t":"2013-04-28","p":4.5},{"t":"2013-04-29","p":6.0},{"t":"2013-04-30","p":4.0},{"t":"2013-05-01","p":5.0},{"t":"2013-05-02","p":5.8},{"t":"2013-05-03","p":2.5},{"t":"2013-05-04","p":4.5},{"t":"2013-05-05","p":5.3},{"t":"2013-05-06","p":1.5},{"t":"2013-05-07","p":3.0},{"t":"2013-05-08","p":4.0},{"t":"2013-05-09","p":1.5},{"t":"2013-05-11","p":3.0},{"t":"2013-05-13","p":0},{"t":"2013-05-14","p":1.0},
{"t":"2013-05-16","p":1.0},{"t":"2013-05-18","p":1.05},{"t":"2013-05-20","p":0.98},{"t":"2013-05-21","p":0.95},{"t":"2013-05-23","p":1.02},{"t":"2013-05-24","p":1.0},{"t":"2013-05-26","p":0.97},{"t":"2013-05-27","p":0.96},{"t":"2013-05-29","p":1.03},{"t":"2013-05-30","p":1.02},{"t":"2013-06-01","p":0.97},{"t":"2013-06-02","p":0.95},{"t":"2013-06-04","p":1.02},{"t":"2013-06-05","p":1.0},{"t":"2013-06-07","p":0.97},{"t":"2013-06-08","p":0.96},{"t":"2013-06-10","p":1.03},{"t":"2013-06-11","p":1.02},{"t":"2013-06-13","p":0.97},{"t":"2013-06-14","p":0.95},{"t":"2013-06-16","p":1.01},{"t":"2013-06-17","p":1.0},{"t":"2013-06-19","p":0.98},{"t":"2013-06-20","p":0.96},{"t":"2013-06-22","p":1.02},{"t":"2013-06-23","p":1.0},{"t":"2013-06-25","p":0.97},{"t":"2013-06-26","p":0.95},{"t":"2013-06-28","p":1.02},{"t":"2013-06-29","p":1.0},{"t":"2013-07-01","p":0.97},{"t":"2013-07-02","p":0.96},{"t":"2013-07-04","p":1.02},{"t":"2013-07-05","p":1.0},{"t":"2013-07-07","p":0.97},{"t":"2013-07-08","p":0.95},{"t":"2013-07-10","p":1.01},{"t":"2013-07-11","p":1.0},{"t":"2013-07-13","p":0.98},{"t":"2013-07-14","p":0.97},{"t":"2013-07-16","p":1.01},{"t":"2013-07-17","p":1.0},{"t":"2013-07-19","p":0.98},{"t":"2013-07-20","p":0.96},{"t":"2013-07-22","p":0.98},
{"t":"2013-11-22","p":1.0},{"t":"2013-12-04","p":0}
],
"peaks": [
{"t":"2007-02-04","p":15.0},{"t":"2007-12-17","p":16.6},{"t":"2008-04-08","p":16.3},{"t":"2008-05-26","p":15.64},{"t":"2008-06-16","p":10.1},{"t":"2008-07-03","p":15.43},{"t":"2008-07-14","p":12.14},{"t":"2008-07-30","p":16.44},{"t":"2008-08-28","p":17.3},{"t":"2008-09-05","p":12.5},{"t":"2008-09-14","p":15.94},{"t":"2008-09-14","p":14.1},{"t":"2008-09-27","p":15.94},{"t":"2008-11-02","p":15.06},{"t":"2009-01-22","p":14.98},{"t":"2009-04-01","p":15.06},{"t":"2009-08-12","p":11.18},{"t":"2009-08-15","p":14.9},{"t":"2009-08-19","p":16.4},{"t":"2009-08-28","p":14.9},{"t":"2009-09-29","p":13.02},{"t":"2009-11-04","p":16.35},{"t":"2010-01-03","p":11.27},{"t":"2010-01-20","p":11.52},{"t":"2010-02-16","p":15.76},{"t":"2010-02-28","p":10.55},{"t":"2010-04-26","p":14.1},{"t":"2010-06-02","p":15.5},{"t":"2010-07-19","p":15.78},{"t":"2010-10-21","p":15.73},{"t":"2010-12-09","p":14.8},{"t":"2011-01-29","p":12.05},{"t":"2011-05-10","p":16.0},{"t":"2011-05-14","p":11.34},{"t":"2011-05-27","p":15.64},{"t":"2011-06-18","p":14.8},{"t":"2011-07-09","p":10.99},{"t":"2011-07-31","p":13.92},{"t":"2011-08-14","p":16.0},{"t":"2011-08-16","p":15.45},{"t":"2011-08-29","p":10.77},{"t":"2011-10-31","p":15.41},{"t":"2011-11-06","p":15.94},{"t":"2011-12-12","p":14.85},{"t":"2012-05-03","p":15.29},{"t":"2012-05-04","p":14.88},{"t":"2012-05-27","p":12.42},{"t":"2012-09-15","p":10.33},{"t":"2012-09-17","p":14.85},{"t":"2013-02-08","p":15.09},{"t":"2013-04-09","p":12.54}
],
"green": [
{"t":"2007-12-05","i":0},{"t":"2007-12-06","i":400},{"t":"2007-12-07","i":100},{"t":"2008-06-10","i":250},{"t":"2008-06-17","i":250},{"t":"2008-06-18","i":6500},{"t":"2008-06-18","i":100},{"t":"2008-06-27","i":100},{"t":"2008-06-28","i":6500},{"t":"2008-06-28","i":0},{"t":"2008-07-03","i":0},{"t":"2008-08-25","i":450},{"t":"2008-08-27","i":5000},{"t":"2008-08-28","i":400},{"t":"2008-08-31","i":500},{"t":"2008-09-04","i":300},{"t":"2008-09-08","i":500},{"t":"2008-09-12","i":400},{"t":"2008-09-14","i":0},
{"t":"2009-03-26","i":0},{"t":"2009-03-27","i":350},{"t":"2009-04-21","i":350},{"t":"2009-04-22","i":6960},{"t":"2009-04-23","i":0},{"t":"2009-05-15","i":0},{"t":"2009-05-16","i":5140},{"t":"2009-05-17","i":0},{"t":"2009-06-01","i":100},{"t":"2009-07-31","i":300},{"t":"2009-08-02","i":5140},{"t":"2009-09-14","i":100},{"t":"2009-10-14","i":0},{"t":"2009-10-15","i":7040},{"t":"2009-10-16","i":0},{"t":"2009-11-10","i":0},{"t":"2009-11-11","i":5820},{"t":"2009-11-12","i":0},{"t":"2009-12-18","i":0},{"t":"2009-12-19","i":400},{"t":"2010-01-01","i":400},{"t":"2010-01-05","i":0},{"t":"2010-01-06","i":7320},{"t":"2010-01-07","i":0},{"t":"2010-02-10","i":0},{"t":"2010-02-11","i":400},{"t":"2010-02-23","i":400},{"t":"2010-02-24","i":0},
{"t":"2010-07-18","i":0},{"t":"2010-07-19","i":7040},{"t":"2010-07-20","i":0},{"t":"2011-01-24","i":0},{"t":"2011-01-25","i":7040},{"t":"2011-01-26","i":0},{"t":"2011-04-30","i":0},{"t":"2011-05-01","i":4100},{"t":"2011-05-02","i":0},{"t":"2011-08-28","i":0},{"t":"2011-08-29","i":7040},{"t":"2011-08-30","i":0},{"t":"2011-10-06","i":0},{"t":"2011-10-07","i":4100},{"t":"2011-10-08","i":0},{"t":"2011-12-11","i":0},{"t":"2011-12-12","i":7040},{"t":"2011-12-13","i":0},{"t":"2013-02-14","i":0},{"t":"2013-02-15","i":7180},{"t":"2013-02-16","i":0},{"t":"2013-02-24","i":0},{"t":"2013-02-25","i":7180},{"t":"2013-02-26","i":0},{"t":"2013-03-03","i":0}
],
"blocks": [
{"t":"2009-11-21","e":"2009-12-17","top":3650},
{"t":"2010-02-24","e":"2010-03-15","top":1330},
{"t":"2010-03-15","e":"2010-12-08","top":3650},
{"t":"2011-02-09","e":"2011-12-12","top":3570},
{"t":"2012-02-20","e":"2012-03-04","top":5820},
{"t":"2012-03-04","e":"2012-12-19","top":4110},
{"t":"2013-01-08","e":"2013-02-17","top":4110}
]
},
"encoding": {
 "x": {"field": "t", "type": "temporal",
  "scale": {"type": "utc", "nice": false, "domain": [{"year": 2006, "month": 9, "date": 7, "utc": true}, {"year": 2014, "month": 4, "date": 10, "utc": true}]},
  "axis": {"title": null, "labelExpr": "utcFormat(datum.value, '%b %Y')", "labelAngle": 270, "labelPadding": 4, "labelOverlap": false, "labelFlush": false,
   "values": [
    {"year":2006,"month":11,"date":1,"utc":true},
    {"year":2007,"month":2,"date":1,"utc":true},{"year":2007,"month":5,"date":1,"utc":true},{"year":2007,"month":8,"date":1,"utc":true},{"year":2007,"month":11,"date":1,"utc":true},
    {"year":2008,"month":2,"date":1,"utc":true},{"year":2008,"month":5,"date":1,"utc":true},{"year":2008,"month":8,"date":1,"utc":true},{"year":2008,"month":11,"date":1,"utc":true},
    {"year":2009,"month":2,"date":1,"utc":true},{"year":2009,"month":5,"date":1,"utc":true},{"year":2009,"month":8,"date":1,"utc":true},{"year":2009,"month":11,"date":1,"utc":true},
    {"year":2010,"month":2,"date":1,"utc":true},{"year":2010,"month":5,"date":1,"utc":true},{"year":2010,"month":8,"date":1,"utc":true},{"year":2010,"month":11,"date":1,"utc":true},
    {"year":2011,"month":2,"date":1,"utc":true},{"year":2011,"month":5,"date":1,"utc":true},{"year":2011,"month":8,"date":1,"utc":true},{"year":2011,"month":11,"date":1,"utc":true},
    {"year":2012,"month":2,"date":1,"utc":true},{"year":2012,"month":5,"date":1,"utc":true},{"year":2012,"month":8,"date":1,"utc":true},{"year":2012,"month":11,"date":1,"utc":true},
    {"year":2013,"month":2,"date":1,"utc":true},{"year":2013,"month":5,"date":1,"utc":true},{"year":2013,"month":8,"date":1,"utc":true},{"year":2013,"month":11,"date":1,"utc":true},
    {"year":2014,"month":2,"date":1,"utc":true}
   ]}
 }
},
"layer": [
 {"data": {"name": "blue"},
  "mark": {"type": "line", "strokeWidth": 2, "point": {"filled": true, "size": 20}},
  "encoding": {
   "y": {"field": "p", "type": "quantitative", "scale": {"domain": [0, 19], "nice": false, "zero": false},
    "axis": {"orient": "left", "title": "Pressure [bar]", "values": [0, 2.5, 5, 7.5, 10, 12.5, 15, 17.5], "format": ".1f", "labelPadding": 4, "titlePadding": 7}},
   "color": {"datum": "LQXBB_02L8_PT821.POSST", "type": "nominal",
    "scale": {"domain": ["LQXBB_02L8_PT821.POSST", "RPHFC.UA83.RQX.L8:I_MEAS"], "range": ["#0000ff", "#008000"]},
    "legend": {"orient": "none", "legendX": 12, "legendY": -49, "title": null, "padding": 0,
     "labelFont": "DejaVu Sans", "labelFontSize": 12.5, "labelColor": "#222222", "labelOffset": 17, "labelLimit": 0, "rowPadding": 8,
     "symbolSize": 100, "symbolStrokeWidth": 1.8,
     "encode": {"symbols": {"update": {
      "shape": {"signal": "datum.value === 'LQXBB_02L8_PT821.POSST' ? 'M-2.8,0L2.8,0M-0.42,0A0.42,0.42,0,1,1,0.42,0A0.42,0.42,0,1,1,-0.42,0Z' : 'M-2.8,0L2.8,0'"},
      "fill": {"signal": "datum.value === 'LQXBB_02L8_PT821.POSST' ? '#0000ff' : 'transparent'"},
      "stroke": {"signal": "datum.value === 'LQXBB_02L8_PT821.POSST' ? '#0000ff' : '#008000'"},
      "strokeWidth": {"value": 1.8},
      "opacity": {"value": 1}
     }}}}},
   "order": {"value": null}
  }},
 {"data": {"name": "blocks"},
  "mark": {"type": "rect", "color": "#008000"},
  "encoding": {
   "x2": {"field": "e"},
   "y": {"field": "top", "type": "quantitative", "scale": {"domain": [0, 29220], "nice": false}, "axis": null},
   "y2": {"datum": 0}
  }},
 {"data": {"name": "green"},
  "mark": {"type": "line", "strokeWidth": 1.8},
  "encoding": {
   "y": {"field": "i", "type": "quantitative", "scale": {"domain": [0, 29220], "nice": false},
    "axis": {"orient": "right", "title": "I_MEAS [A]", "values": [0, 5000, 10000, 15000, 20000, 25000], "format": "d", "labelPadding": 4, "titlePadding": 2, "titleAngle": 270, "titleBaseline": "top"}},
   "color": {"datum": "RPHFC.UA83.RQX.L8:I_MEAS", "type": "nominal"},
   "order": {"value": null}
  }},
 {"data": {"name": "peaks"},
  "mark": {"type": "circle", "color": "#ff0000", "size": 64, "opacity": 1},
  "encoding": {
   "y": {"field": "p", "type": "quantitative", "scale": {"domain": [0, 19], "nice": false}, "axis": null}
  }},
 {"data": {"values": [{"t": "2006-09-15", "e": "2014-03-08", "v": 9.83}]},
  "mark": {"type": "rule", "color": "#808080", "strokeWidth": 8, "strokeDash": [31.5, 24.4], "strokeCap": "butt"},
  "encoding": {
   "x2": {"field": "e"},
   "y": {"field": "v", "type": "quantitative", "scale": {"domain": [0, 19], "nice": false}, "axis": null}
  }},
 {"data": {"values": [
   {"t": "2006-04-25", "e": "2007-06-03", "lo": -0.32, "hi": -3.34},
   {"t": "2013-08-02", "e": "2014-09-21", "lo": -0.42, "hi": -3.5},
   {"t": "2013-06-20", "e": "2014-09-03", "lo": 10.14, "hi": 13.11}
  ]},
  "mark": {"type": "rect", "color": "#ffffff", "opacity": 1},
  "encoding": {
   "x2": {"field": "e"},
   "y": {"field": "lo", "type": "quantitative", "scale": {"domain": [0, 19], "nice": false}, "axis": null},
   "y2": {"field": "hi"}
  }},
 {"data": {"values": [{"t": "2010-07-13", "v": 20.24, "txt": "Pressure in IT.L8 cold mass"}]},
  "mark": {"type": "text", "font": "Liberation Sans", "fontSize": 31, "fontWeight": "bold", "color": "#0070C0", "align": "center", "baseline": "alphabetic"},
  "encoding": {
   "y": {"field": "v", "type": "quantitative", "scale": {"domain": [0, 19], "nice": false}, "axis": null},
   "text": {"field": "txt"}
  }},
 {"data": {"values": [{"t": "2006-11-03", "v": -2.49, "txt": "Nov.2006"}, {"t": "2014-03-04", "v": -2.76, "txt": "Feb.2014"}]},
  "mark": {"type": "text", "font": "Liberation Sans", "fontSize": 31, "color": "#000000", "align": "center", "baseline": "alphabetic"},
  "encoding": {
   "y": {"field": "v", "type": "quantitative", "scale": {"domain": [0, 19], "nice": false}, "axis": null},
   "text": {"field": "txt"}
  }},
 {"data": {"values": [{"t": "2013-09-07", "v": 16.08, "txt": "IT.L8"}]},
  "mark": {"type": "text", "font": "Liberation Sans", "fontSize": 46, "color": "#000000", "align": "center", "baseline": "alphabetic"},
  "encoding": {
   "y": {"field": "v", "type": "quantitative", "scale": {"domain": [0, 19], "nice": false}, "axis": null},
   "text": {"field": "txt"}
  }},
 {"data": {"values": [{"t": "2013-11-20", "v": 2.12, "txt": "LS1"}]},
  "mark": {"type": "text", "font": "Liberation Sans", "fontSize": 31, "color": "#000000", "align": "center", "baseline": "alphabetic"},
  "encoding": {
   "y": {"field": "v", "type": "quantitative", "scale": {"domain": [0, 19], "nice": false}, "axis": null},
   "text": {"field": "txt"}
  }},
 {"data": {"values": [{"t": "2013-11-28", "v": 10.88, "txt": "10 bars"}]},
  "mark": {"type": "text", "font": "Liberation Sans", "fontSize": 31, "fontWeight": "bold", "color": "#808080", "align": "center", "baseline": "alphabetic"},
  "encoding": {
   "y": {"field": "v", "type": "quantitative", "scale": {"domain": [0, 19], "nice": false}, "axis": null},
   "text": {"field": "txt"}
  }}
],
"resolve": {"scale": {"y": "independent"}}
}
